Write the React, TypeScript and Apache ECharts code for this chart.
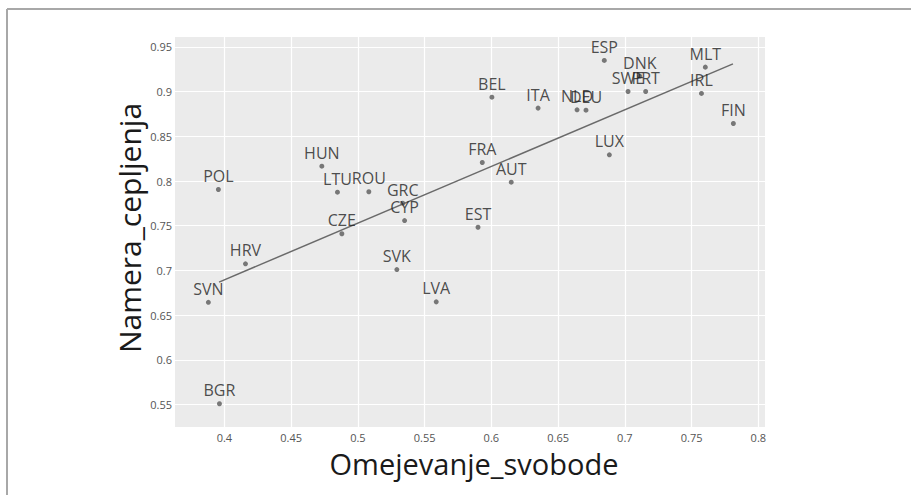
import React, { useEffect, useRef } from "react";
import * as echarts from "echarts";

const countries = ["POL","HUN","LTU","ROU","GRC","CYP","CZE","HRV","SVN","BGR","SVK","LVA","EST","FRA","AUT","BEL","ITA","NLD","DEU","LUX","ESP","DNK","SWE","PRT","MLT","IRL","FIN"];
const omejevanje = [0.3955,0.473,0.4847,0.5082,0.5336,0.535,0.488,0.4158,0.388,0.3963,0.5292,0.5587,0.59,0.5932,0.6149,0.6004,0.635,0.6642,0.6709,0.6884,0.6846,0.7112,0.7024,0.7156,0.7603,0.7574,0.7813];
const namera = [0.7905,0.8166,0.7875,0.788,0.7752,0.7558,0.741,0.7074,0.6644,0.551,0.701,0.6649,0.7483,0.8207,0.7987,0.8937,0.8815,0.8796,0.8792,0.8293,0.9348,0.9172,0.9001,0.9001,0.9273,0.8979,0.8643];
const trendX = [0.396, 0.781];
const trendY = [0.687, 0.931];
const xTicks = [0.4,0.45,0.5,0.55,0.6,0.65,0.7,0.75,0.8];
const yTicks = [0.55,0.6,0.65,0.7,0.75,0.8,0.85,0.9,0.95];

const FONT = "'Open Sans', 'DejaVu Sans', sans-serif";

export default function App() {
  const ref = useRef<HTMLDivElement>(null);
  useEffect(() => {
    if (!ref.current) return;
    const chart = echarts.init(ref.current, undefined, { renderer: "svg" });
    const fmt = (v: number) => String(+Number(v).toFixed(2));
    chart.setOption({
      animation: false,
      backgroundColor: "#ffffff",
      textStyle: { fontFamily: FONT },
      grid: { left: 175, right: 146, top: 37, bottom: 68, show: true, backgroundColor: "#ebebeb", borderWidth: 0 },
      xAxis: {
        type: "value",
        min: 0.363,
        max: 0.805,
        axisLine: { show: false },
        axisTick: { show: false, customValues: xTicks },
        axisLabel: { customValues: xTicks, formatter: fmt, color: "#555", fontSize: 11, margin: 5, fontFamily: FONT },
        splitLine: { show: true, lineStyle: { color: "#ffffff", width: 1.2 } },
      },
      yAxis: {
        type: "value",
        min: 0.525,
        max: 0.961,
        axisLine: { show: false },
        axisTick: { show: false, customValues: yTicks },
        axisLabel: { customValues: yTicks, formatter: fmt, color: "#555", fontSize: 11, margin: 3, fontFamily: FONT },
        splitLine: { show: true, lineStyle: { color: "#ffffff", width: 1.2 } },
      },
      series: [
        {
          type: "line",
          data: trendX.map((x, i) => [x, trendY[i]]),
          showSymbol: false,
          symbol: "none",
          lineStyle: { color: "#6a6a6a", width: 1.5 },
          silent: true,
          z: 2,
        },
        {
          type: "scatter",
          data: countries.map((c, i) => ({ name: c, value: [omejevanje[i], namera[i]] })),
          symbolSize: 5,
          itemStyle: { color: "#5a5a5a" },
          clip: false,
          z: 3,
          label: {
            show: true,
            position: "top",
            distance: 3,
            formatter: (p: any) => p.name,
            color: "#222",
            fontSize: 16,
            fontFamily: FONT,
          },
        },
      ],
      graphic: [
        { type: "line", shape: { x1: 7, y1: 9, x2: 7, y2: 495 }, style: { stroke: "#a8a8a8", lineWidth: 2 } },
        { type: "line", shape: { x1: 7, y1: 9, x2: 911, y2: 9 }, style: { stroke: "#a8a8a8", lineWidth: 2 } },
        {
          type: "text",
          x: 474,
          y: 463,
          style: { text: "Omejevanje_svobode", font: `29px ${FONT}`, fill: "#1a1a1a", align: "center", verticalAlign: "middle" },
        },
        {
          type: "text",
          x: 129,
          y: 228,
          rotation: Math.PI / 2,
          style: { text: "Namera_cepljenja", font: `30px ${FONT}`, fill: "#1a1a1a", align: "center", verticalAlign: "middle" },
        },
      ],
    });
    return () => chart.dispose();
  }, []);
  return <div ref={ref} style={{ position: "fixed", left: 0, top: 0, width: 911, height: 495 }} />;
}
